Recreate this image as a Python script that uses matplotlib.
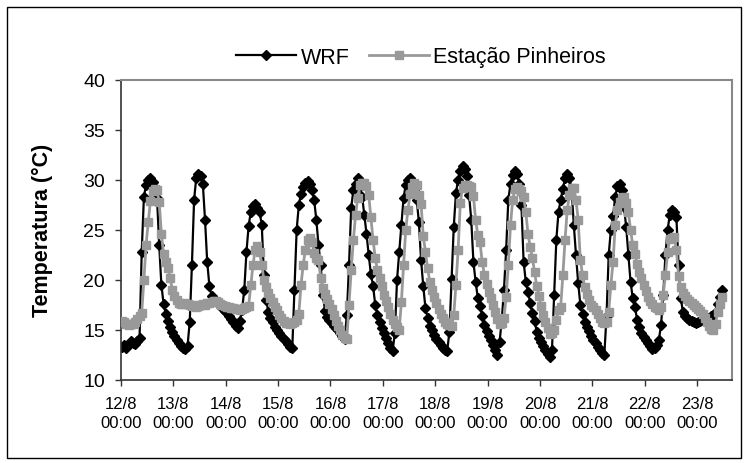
import matplotlib
matplotlib.use('Agg')
import matplotlib.pyplot as plt
from matplotlib.patches import Rectangle

# Hourly temperatures (°C), starting 12/8 00:00
wrf = [
    13.3, 13.5, 13.2, 13.6, 13.9, 13.7, 13.6, 13.9, 14.2, 22.8, 28.3, 29.5, 30.0, 30.2, 29.8, 29.2, 28.2, 23.5, 19.5, 17.6, 16.6, 15.9, 15.3, 14.8,
    14.4, 14.0, 13.7, 13.4, 13.2, 13.1, 13.4, 15.8, 21.5, 28.0, 30.2, 30.6, 30.4, 29.6, 26.0, 21.8, 19.4, 18.4, 18.0, 17.9, 17.8, 17.7, 17.2, 16.9,
    16.7, 16.4, 16.1, 15.8, 15.4, 15.2, 15.9, 17.0, 19.0, 22.8, 25.4, 26.8, 27.4, 27.6, 27.2, 26.8, 25.5, 20.5, 18.0, 16.8, 16.2, 15.8, 15.3, 15.0,
    14.7, 14.4, 14.1, 13.9, 13.6, 13.3, 13.2, 19.0, 25.0, 27.5, 28.6, 29.3, 29.7, 29.9, 29.6, 29.0, 28.0, 26.0, 23.5, 21.5, 18.5, 16.9, 16.3, 16.0,
    15.7, 15.4, 15.2, 15.0, 14.7, 14.4, 14.1, 16.5, 21.5, 27.2, 29.0, 29.6, 30.2, 29.8, 28.3, 26.5, 24.6, 22.5, 20.6, 19.4, 17.5, 16.5, 15.8, 15.2,
    14.7, 14.2, 13.7, 13.2, 12.9, 14.7, 20.0, 22.8, 25.5, 28.2, 29.5, 30.0, 30.2, 29.8, 29.0, 28.0, 25.8, 22.0, 19.4, 17.2, 16.2, 15.4, 15.0, 14.5,
    14.1, 13.8, 13.5, 13.2, 13.0, 12.9, 14.8, 20.1, 25.3, 28.7, 30.0, 30.9, 31.4, 31.1, 30.4, 28.5, 26.0, 21.8, 19.8, 18.2, 17.4, 16.4, 15.5, 14.9,
    14.4, 14.0, 13.5, 13.0, 12.5, 13.8, 16.0, 19.0, 23.0, 28.0, 29.6, 30.5, 30.9, 30.6, 29.6, 27.5, 21.8, 19.8, 18.8, 17.7, 16.7, 15.9, 14.8, 14.2,
    13.8, 13.4, 13.0, 12.6, 12.3, 13.0, 18.5, 24.0, 26.8, 28.0, 29.1, 30.2, 30.6, 30.2, 29.0, 25.5, 22.5, 19.7, 17.5, 16.6, 15.8, 15.3, 14.9, 14.4,
    14.0, 13.7, 13.3, 13.0, 12.7, 12.5, 16.4, 22.5, 25.0, 26.4, 28.3, 29.4, 29.6, 29.0, 27.3, 25.3, 22.5, 19.8, 18.2, 17.3, 16.0, 15.3, 14.7, 14.3,
    14.0, 13.7, 13.4, 13.1, 13.2, 13.5, 14.0, 15.5, 18.5, 22.5, 25.0, 26.5, 27.0, 26.8, 26.3, 21.5, 18.2, 16.8, 16.4, 16.2, 16.0, 15.9, 15.8, 15.7,
    15.8, 15.9, 16.0, 16.0, 16.1, 16.2, 16.4, 16.5, 16.8, 17.6, 18.3, 19.0,
]

estacao = [
    15.9, 15.8, 15.6, 15.5, 15.6, 15.6, 15.8, 16.1, 16.4, 16.7, 20.0, 23.5, 25.8, 27.9, 28.9, 29.1, 29.0, 27.8, 24.6, 22.6, 21.8, 21.2, 20.2, 19.0,
    18.4, 18.0, 17.7, 17.6, 17.6, 17.7, 17.6, 17.5, 17.4, 17.5, 17.3, 17.4, 17.5, 17.6, 17.5, 17.7, 17.7, 17.8, 17.9, 17.9, 17.8, 17.6, 17.5, 17.4,
    17.3, 17.3, 17.2, 17.2, 17.1, 17.1, 17.0, 17.1, 17.2, 17.3, 17.4, 19.5, 21.5, 23.0, 23.4, 22.8, 21.5, 20.0, 19.3, 18.7, 18.2, 17.8, 17.3, 17.0,
    16.5, 16.2, 15.9, 15.7, 15.7, 15.6, 15.7, 15.8, 16.0, 16.6, 19.5, 21.5, 23.0, 24.0, 24.2, 23.8, 22.7, 22.2, 22.0, 20.2, 19.2, 18.6, 18.1, 17.6,
    17.1, 16.5, 15.9, 15.4, 15.0, 14.5, 14.2, 14.1, 17.5, 21.0, 24.0, 26.5, 28.2, 29.5, 29.7, 29.7, 29.4, 28.5, 26.3, 24.0, 22.2, 21.0, 20.2, 19.4,
    18.5, 17.9, 17.3, 16.6, 16.0, 15.6, 15.3, 15.0, 17.8, 21.5, 25.0, 27.0, 28.6, 29.3, 29.7, 29.5, 28.5, 27.6, 24.4, 22.8, 21.2, 19.8, 19.0, 18.3,
    17.7, 17.1, 16.6, 16.2, 15.8, 15.6, 15.5, 15.4, 16.5, 19.5, 23.0, 27.7, 29.2, 29.5, 29.5, 29.4, 29.3, 28.4, 26.0, 24.5, 23.8, 21.8, 20.5, 19.6,
    18.8, 18.2, 17.5, 16.8, 16.1, 15.6, 15.7, 16.2, 18.3, 21.5, 25.5, 28.0, 29.1, 29.3, 29.1, 28.9, 28.3, 26.8, 24.6, 23.3, 22.2, 20.8, 19.4, 18.4,
    17.4, 16.5, 15.8, 15.2, 14.6, 14.7, 15.0, 16.0, 17.0, 17.3, 20.5, 24.0, 27.0, 28.5, 29.2, 29.2, 28.0, 26.0, 22.0, 20.5, 19.3, 18.6, 18.0, 17.5,
    17.3, 17.0, 16.6, 16.2, 15.8, 15.7, 15.8, 16.8, 19.5, 21.8, 25.5, 27.0, 27.8, 28.2, 28.3, 27.7, 26.8, 25.0, 23.5, 22.6, 21.6, 20.8, 20.2, 19.5,
    18.9, 18.3, 17.9, 17.6, 17.3, 17.2, 17.0, 17.3, 18.5, 20.5, 22.8, 24.1, 24.2, 24.3, 23.0, 20.4, 19.3, 18.7, 18.4, 18.1, 17.9, 17.7, 17.5, 17.3,
    17.1, 16.9, 16.6, 16.2, 15.8, 15.4, 15.1, 15.0, 15.6, 16.8, 17.6, 18.3,
]

tick_labels = ['12/8\n00:00', '13/8\n00:00', '14/8\n00:00', '15/8\n00:00', '16/8\n00:00', '17/8\n00:00',
               '18/8\n00:00', '19/8\n00:00', '20/8\n00:00', '21/8\n00:00', '22/8\n00:00', '23/8\n00:00']
hours_per_tick = 24
n_categories = 280

plt.rcParams['font.family'] = ['Liberation Sans', 'DejaVu Sans']

fig = plt.figure(figsize=(7.46, 4.64), dpi=100)
W, H = 746, 464
ax = fig.add_axes([121 / W, 1 - 380.7 / H, (732 - 121) / W, 300 / H])

ax.plot(range(len(wrf)), wrf, color='black', lw=1.6, marker='D', ms=5.4,
        mfc='black', mec='black', label='WRF', zorder=2)
ax.plot(range(len(estacao)), estacao, color='#999999', lw=2.0, marker='s', ms=5.4,
        mfc='#999999', mec='#999999', label='Estação Pinheiros', zorder=3)

ax.set_xlim(-0.5, n_categories - 0.5)
ax.set_ylim(10, 40)
ax.set_yticks(range(10, 41, 5))
ax.set_xticks([k * hours_per_tick - 0.5 for k in range(len(tick_labels))])
ax.set_xticklabels(tick_labels, linespacing=1.3)

ax.tick_params(axis='y', direction='out', length=4.5, width=1, pad=7, labelsize=14, color='#333333')
ax.tick_params(axis='x', direction='out', length=4, width=1, pad=8, labelsize=12, color='#333333')

for s in ['left', 'bottom']:
    ax.spines[s].set_color('#333333')
    ax.spines[s].set_linewidth(1.2)
for s in ['top', 'right']:
    ax.spines[s].set_color('#888888')
    ax.spines[s].set_linewidth(1.5)

ax.set_ylabel('Temperatura (°C)', fontsize=15.5, fontweight='bold')
ax.yaxis.set_label_coords(-0.112, 0.5)

fig.legend(loc='center', bbox_to_anchor=(421 / W, 1 - 58 / H), ncol=2, frameon=False,
           fontsize=15.5, handlelength=2.8, handletextpad=0.2, columnspacing=0.9)

fig.patches.append(Rectangle((7 / W, 1 - 459 / H), (741 - 7) / W, (459 - 8) / H,
                             transform=fig.transFigure, fill=False, ec='black', lw=1))

fig.savefig('out.png', dpi=100)
